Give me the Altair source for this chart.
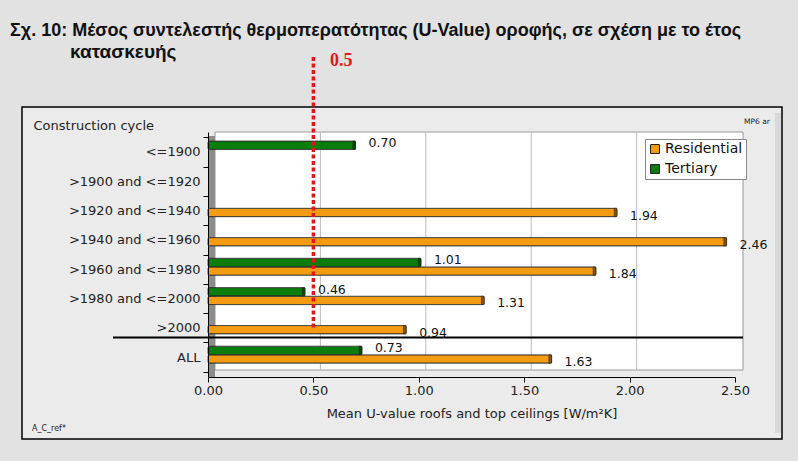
import altair as alt
import pandas as pd

categories = ["<=1900", ">1900 and <=1920", ">1920 and <=1940", ">1940 and <=1960",
              ">1960 and <=1980", ">1980 and <=2000", ">2000", "ALL"]
residential = [None, None, 1.94, 2.46, 1.84, 1.31, 0.94, 1.63]
tertiary = [0.70, None, None, None, 1.01, 0.46, None, 0.73]
series = ["Residential", "Tertiary"]
colors = ["#F39C12", "#0B7D0B"]
x_ticks = [0.0, 0.5, 1.0, 1.5, 2.0, 2.5]
grid_values = [0.5, 1.0, 1.5, 2.0]
threshold = 0.5

title1 = "Σχ. 10: Μέσος συντελεστής θερμοπερατότητας (U-Value) οροφής, σε σχέση με το έτος"
title2 = "κατασκευής"
x_title = "Mean U-value roofs and top ceilings [W/m²K]"
y_title = "Construction cycle"

rows = []
for c, r, t in zip(categories, residential, tertiary):
    if r is not None:
        rows.append({"cycle": c, "series": "Residential", "value": r})
    if t is not None:
        rows.append({"cycle": c, "series": "Tertiary", "value": t})
df = pd.DataFrame(rows)
df["label"] = df["value"].map(lambda v: f"{v:.2f}")
grid_df = pd.DataFrame({"v": grid_values})
one = pd.DataFrame({"k": [0]})

W, H = 527, 245
FONT = "DejaVu Sans"

xscale = alt.Scale(domain=[0, 2.5], nice=False, zero=True)
yscale = alt.Scale(domain=categories, paddingInner=0, paddingOuter=0.18)
offscale = alt.Scale(domain=["Tertiary", "Residential"], range=[3.8, 20.8],
                     paddingInner=0.03, paddingOuter=0)

xaxis = alt.Axis(values=x_ticks, format=".2f", grid=False, labelFont=FONT, labelFontSize=13,
                 labelColor="#222", tickColor="#000", domainColor="#000", tickSize=5,
                 labelPadding=2, labelFlush=False, titleFont=FONT, titleFontSize=13,
                 titleFontWeight="normal", titleColor="#222", titlePadding=10, zindex=2)
yaxis = alt.Axis(grid=False, labelFont=FONT, labelFontSize=13, labelColor="#222",
                 tickColor="#000", domainColor="#000", tickSize=5, tickBand="extent",
                 labelPadding=3, titleFont=FONT, titleFontSize=13, titleFontWeight="normal",
                 titleColor="#222", titleAngle=0, titleAlign="left", titleBaseline="alphabetic",
                 titleX=-175, titleY=-3, zindex=2)


def X(field=None, **kw):
    if field is None:
        return alt.X(scale=xscale, axis=xaxis, title=x_title, **kw)
    return alt.X(field, scale=xscale, axis=xaxis, title=x_title, **kw)


def Y(field=None, **kw):
    if field is None:
        return alt.Y(scale=yscale, axis=yaxis, title=y_title, **kw)
    return alt.Y(field, scale=yscale, axis=yaxis, title=y_title, **kw)


# outer chart frame
frame = alt.Chart(one).mark_rect(fill="#ebebeb", stroke="#000", strokeWidth=1.5).encode(
    x=alt.value(-186), x2=alt.value(574), y=alt.value(-25), y2=alt.value(307))
frame_shadow = alt.Chart(one).mark_rect(fill="#d8d8d8").encode(
    x=alt.value(567), x2=alt.value(573), y=alt.value(-19), y2=alt.value(301))

# 3D plot box
back = alt.Chart(one).mark_rect(fill="#ffffff", stroke="#9a9a9a", strokeWidth=1).encode(
    x=alt.value(7), x2=alt.value(535), y=alt.value(0), y2=alt.value(238))
wall = alt.Chart(one).mark_rect(fill="#8c8c8c").encode(
    x=alt.value(0), x2=alt.value(7), y=alt.value(4), y2=alt.value(245))

grid = alt.Chart(grid_df).mark_rule(color="#bdbdbd", strokeWidth=1, xOffset=7).encode(
    x=X("v:Q"), y=alt.value(0), y2=alt.value(238))

bars = alt.Chart(df).mark_bar(stroke="#2a2a2a", strokeWidth=0.8, cornerRadius=1.5).encode(
    x=X("value:Q"),
    y=Y("cycle:N"),
    yOffset=alt.YOffset("series:N", scale=offscale),
    color=alt.Color("series:N", scale=alt.Scale(domain=series, range=colors),
                    legend=alt.Legend(title=None, orient="none", legendX=437, legendY=7,
                                      fillColor="#ffffff", strokeColor="#888888", padding=3,
                                      symbolType="square", symbolSize=80,
                                      symbolStrokeColor="#222", symbolStrokeWidth=1,
                                      labelFont=FONT, labelFontSize=14, labelColor="#111",
                                      rowPadding=6, labelOffset=3, zindex=3)),
)

caps = alt.Chart(df).transform_calculate(start="datum.value - 0.013").mark_bar(
    stroke="#2a2a2a", strokeWidth=0.6).encode(
    x=X("start:Q"), x2="value:Q",
    y=Y("cycle:N"),
    yOffset=alt.YOffset("series:N", scale=offscale),
    fill=alt.condition("datum.series == 'Residential'", alt.value("#8a5200"), alt.value("#004a00")),
)

labels_res = alt.Chart(df).transform_filter("datum.series == 'Residential'").mark_text(
    align="left", baseline="middle", dx=13, dy=3, font=FONT, fontSize=12.5, color="#111").encode(
    x=X("value:Q"), y=Y("cycle:N"),
    yOffset=alt.YOffset("series:N", scale=offscale), text="label:N")
labels_ter = alt.Chart(df).transform_filter("datum.series == 'Tertiary'").mark_text(
    align="left", baseline="middle", dx=13, dy=-2, font=FONT, fontSize=12.5, color="#111").encode(
    x=X("value:Q"), y=Y("cycle:N"),
    yOffset=alt.YOffset("series:N", scale=offscale), text="label:N")

separator = alt.Chart(one).mark_rule(color="#000", strokeWidth=2, yOffset=-5).encode(
    y=Y(datum="ALL", bandPosition=0), x=alt.value(-95), x2=alt.value(535))

red_line = alt.Chart(one).mark_rule(color="#e3161c", strokeWidth=3.5, strokeDash=[4, 2.5]).encode(
    x=X(datum=threshold), y=alt.value(-75), y2=alt.value(197))
red_label = alt.Chart(one).mark_text(align="left", baseline="alphabetic", font="Liberation Serif",
                                     fontSize=18, fontWeight="bold", color="#e3161c").encode(
    x=alt.value(122), y=alt.value(-66), text=alt.value(str(threshold)))

t1 = alt.Chart(one).mark_text(align="left", baseline="alphabetic", font="Liberation Sans",
                              fontSize=18, fontWeight="bold", color="#111").encode(
    x=alt.value(-198), y=alt.value(-96), text=alt.value(title1))
t2 = alt.Chart(one).mark_text(align="left", baseline="alphabetic", font="Liberation Sans",
                              fontSize=19, fontWeight="bold", color="#111").encode(
    x=alt.value(-138), y=alt.value(-74), text=alt.value(title2))

mp6 = alt.Chart(one).mark_text(align="left", baseline="alphabetic", font=FONT, fontSize=7.5,
                               color="#222").encode(
    x=alt.value(536), y=alt.value(-8), text=alt.value("MP6 ar"))
ref = alt.Chart(one).mark_text(align="left", baseline="alphabetic", font=FONT, fontSize=8,
                               color="#222").encode(
    x=alt.value(-176), y=alt.value(299), text=alt.value("A_C_ref*"))

chart = alt.layer(
    frame, frame_shadow, t1, t2, back, wall, grid, bars, caps, labels_res, labels_ter,
    separator, red_line, red_label, mp6, ref
).properties(
    width=W, height=H,
    autosize=alt.AutoSizeParams(type="none"),
    padding={"left": 208, "top": 132, "right": 63, "bottom": 84},
    background="#e2e2e2",
).configure_view(stroke=None)

chart.save("out.html", embed_options={"renderer": "svg", "actions": False})
